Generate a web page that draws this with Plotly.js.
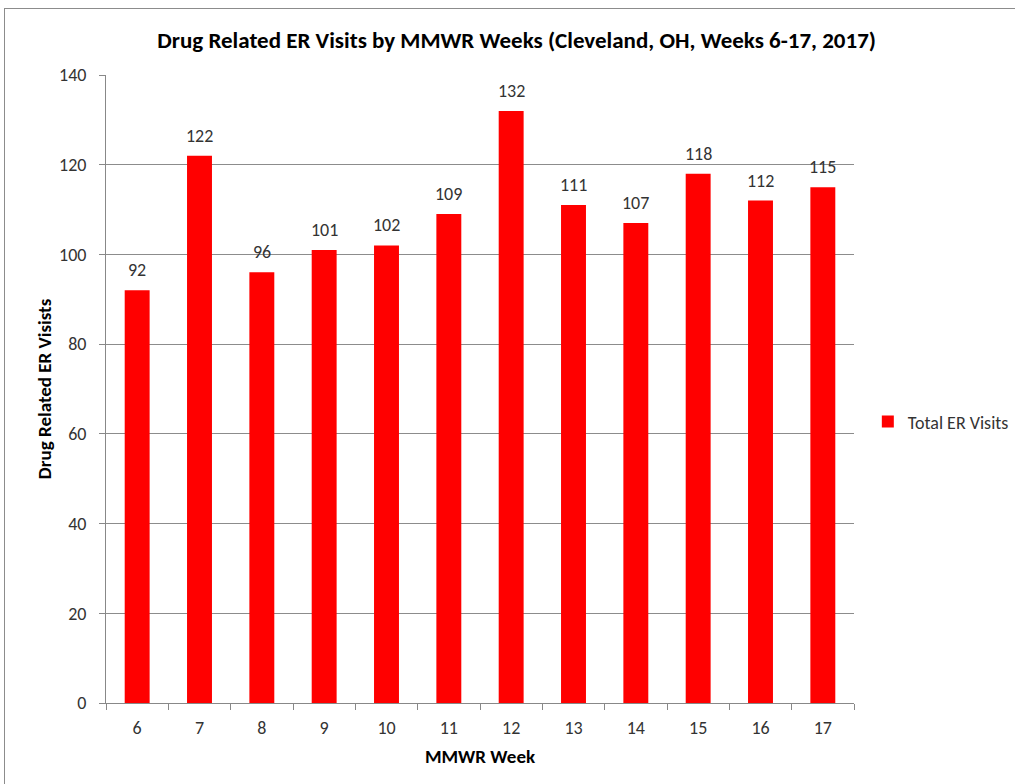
<!DOCTYPE html>
<html>
<head>
<meta charset="utf-8">
<script src="https://cdn.plot.ly/plotly-3.0.1.min.js"></script>
<style>
body{margin:0;padding:0;background:#fff;}
#wrap{position:relative;width:1015px;height:784px;overflow:hidden;}
#chart{width:1015px;height:784px;}
#frame{position:absolute;left:4px;top:8px;width:1030px;height:800px;border:1.5px solid #8c8c8c;pointer-events:none;box-sizing:border-box;}
</style>
</head>
<body>
<div id="wrap"><div id="chart"></div><div id="frame"></div></div>
<script>
const weeks = ['6','7','8','9','10','11','12','13','14','15','16','17'];
const visits = [92,122,96,101,102,109,132,111,107,118,112,115];
const seriesName = 'Total ER Visits';
const chartTitle = 'Drug Related ER Visits by MMWR Weeks (Cleveland, OH, Weeks 6-17, 2017)';
const xTitle = 'MMWR Week';
const yTitle = 'Drug Related ER Visists';

const FONT = 'Carlito, "Liberation Sans", Arial, sans-serif';

const labels = visits.map((v, i) => ({
  x: i, y: v, text: String(v),
  xref: 'x', yref: 'y', showarrow: false,
  yanchor: 'bottom', yshift: 7,
  font: {family: FONT, size: 18, color: '#333'}
}));

Plotly.newPlot('chart', [{
  type: 'bar',
  x: weeks,
  y: visits,
  name: seriesName,
  marker: {color: '#ff0000'},
  showlegend: true
}], {
  width: 1015, height: 784,
  margin: {l: 106, r: 161, t: 75, b: 81},
  paper_bgcolor: '#fff', plot_bgcolor: '#fff',
  bargap: 0.6,
  font: {family: FONT, size: 18, color: '#333'},
  title: {text: '<b>' + chartTitle + '</b>', x: 0.509, xanchor: 'center', y: 0.949, yanchor: 'middle',
          font: {family: FONT, size: 23, color: '#000'}},
  xaxis: {
    type: 'category',
    range: [-0.5, 11.5],
    title: {text: '<b>' + xTitle + '</b>', font: {family: FONT, size: 19, color: '#000'}, standoff: 12},
    showline: true, linecolor: '#888', linewidth: 1,
    ticks: 'outside', tickson: 'boundaries', ticklen: 6, tickcolor: '#888',
    ticklabelstandoff: 8,
    tickfont: {family: FONT, size: 18, color: '#333'},
    showgrid: false, automargin: false
  },
  yaxis: {
    title: {text: '<b>' + yTitle + '</b>', font: {family: FONT, size: 19, color: '#000'}, standoff: 2},
    range: [0, 140], dtick: 20,
    showline: true, linecolor: '#888', linewidth: 1,
    ticks: 'outside', ticklen: 6, tickcolor: '#888',
    ticklabelstandoff: 9,
    gridcolor: '#8c8c8c', gridwidth: 1,
    zeroline: false, automargin: false,
    tickfont: {family: FONT, size: 18, color: '#333'}
  },
  annotations: labels,
  legend: {xref: 'container', yref: 'container', x: 0.855, y: 0.462, xanchor: 'left', yanchor: 'middle',
           itemwidth: 30,
           font: {family: FONT, size: 18, color: '#333'}, bgcolor: 'rgba(0,0,0,0)'}
}, {displayModeBar: false, staticPlot: true});
</script>
</body>
</html>
